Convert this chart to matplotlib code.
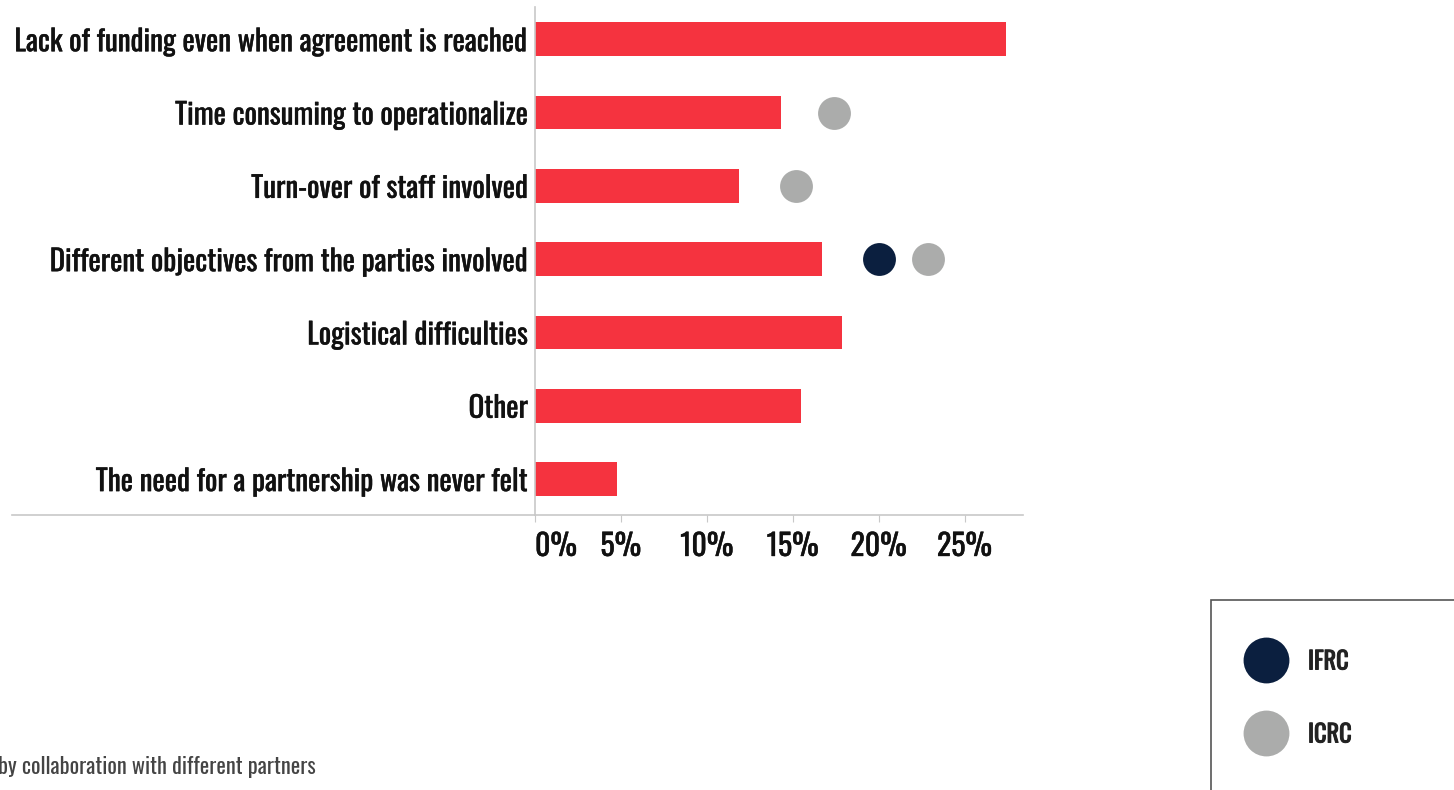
import matplotlib
matplotlib.use("Agg")
import matplotlib.pyplot as plt
import matplotlib.patheffects as pe
from matplotlib.lines import Line2D
from matplotlib.patches import Rectangle

plt.rcParams['font.family'] = ['Oswald', 'DejaVu Sans']

# survey shares (%) per challenge
challenges = [
    'Lack of funding even when agreement is reached',
    'Time consuming to operationalize',
    'Turn-over of staff involved',
    'Different objectives from the parties involved',
    'Logistical difficulties',
    'Other',
    'The need for a partnership was never felt',
]
overall = [27.4, 14.3, 11.9, 16.7, 17.85, 15.5, 4.8]
ifrc = [None, None, None, 20.0, None, None, None]
icrc = [None, 17.4, 15.2, 22.85, None, None, None]
ticks = [0, 5, 10, 15, 20, 25]

RED = '#F5333F'
NAVY = '#0B1F3F'
GREY = '#ABACAB'
AXIS = '#C8C8C8'

fig = plt.figure(figsize=(14.54, 7.9), dpi=100)
ax = fig.add_axes([535 / 1454, 1 - 515 / 790, (1023 - 535) / 1454, (515 - 7) / 790])

y = list(range(len(challenges)))
ax.barh(y, overall, height=0.46, color=RED, zorder=2)

for i, v in enumerate(ifrc):
    if v is not None:
        ax.scatter(v, i, s=560, color=NAVY, zorder=3, linewidths=0)
for i, v in enumerate(icrc):
    if v is not None:
        ax.scatter(v, i, s=560, color=GREY, zorder=3, linewidths=0)

heavy = [pe.withStroke(linewidth=0.3, foreground='#111111')]

ax.set_xlim(0, 28.4)
ax.set_ylim(6.49, -0.44)
ax.set_yticks(y)
ax.set_yticklabels(challenges, fontsize=21, color='#111111')
ax.tick_params(axis='y', length=0, pad=5)
ax.set_xticks(ticks)
ax.set_xticklabels([f'{t}%' for t in ticks], fontsize=21.5, color='#111111')
ax.tick_params(axis='x', length=5, color=AXIS, pad=6.5)
ax.get_xticklabels()[0].set_ha('left')
for lab in ax.get_yticklabels() + ax.get_xticklabels():
    lab.set_path_effects(heavy)

for s in ['top', 'right']:
    ax.spines[s].set_visible(False)
for s in ['left', 'bottom']:
    ax.spines[s].set_color(AXIS)
    ax.spines[s].set_linewidth(1.2)

# baseline runs out under the labels
fig.add_artist(Line2D([12 / 1454, 535 / 1454], [1 - 515 / 790] * 2,
                      color=AXIS, lw=1.2, transform=fig.transFigure))

# legend box in the lower right corner
fig.add_artist(Rectangle((1211 / 1454, -0.01), 0.2, 1 - 600 / 790 + 0.01,
                         transform=fig.transFigure, fill=False,
                         edgecolor='#555555', lw=1.2))
for name, col, py in [('IFRC', NAVY, 660), ('ICRC', GREY, 733)]:
    fig.add_artist(Line2D([1266 / 1454], [1 - py / 790], marker='o', ms=33,
                          color=col, markeredgewidth=0, transform=fig.transFigure))
    fig.text(1308 / 1454, 1 - (py + 2) / 790, name, fontsize=17.5, fontweight='bold',
             color='#222222', va='center', ha='left',
             path_effects=[pe.withStroke(linewidth=0.7, foreground='#222222')])

fig.text(-2 / 1454, 1 - 767 / 790, 'by collaboration with different partners',
         fontsize=16, fontweight='light', color='#444444', va='center', ha='left')

fig.savefig('out.png', dpi=100)
